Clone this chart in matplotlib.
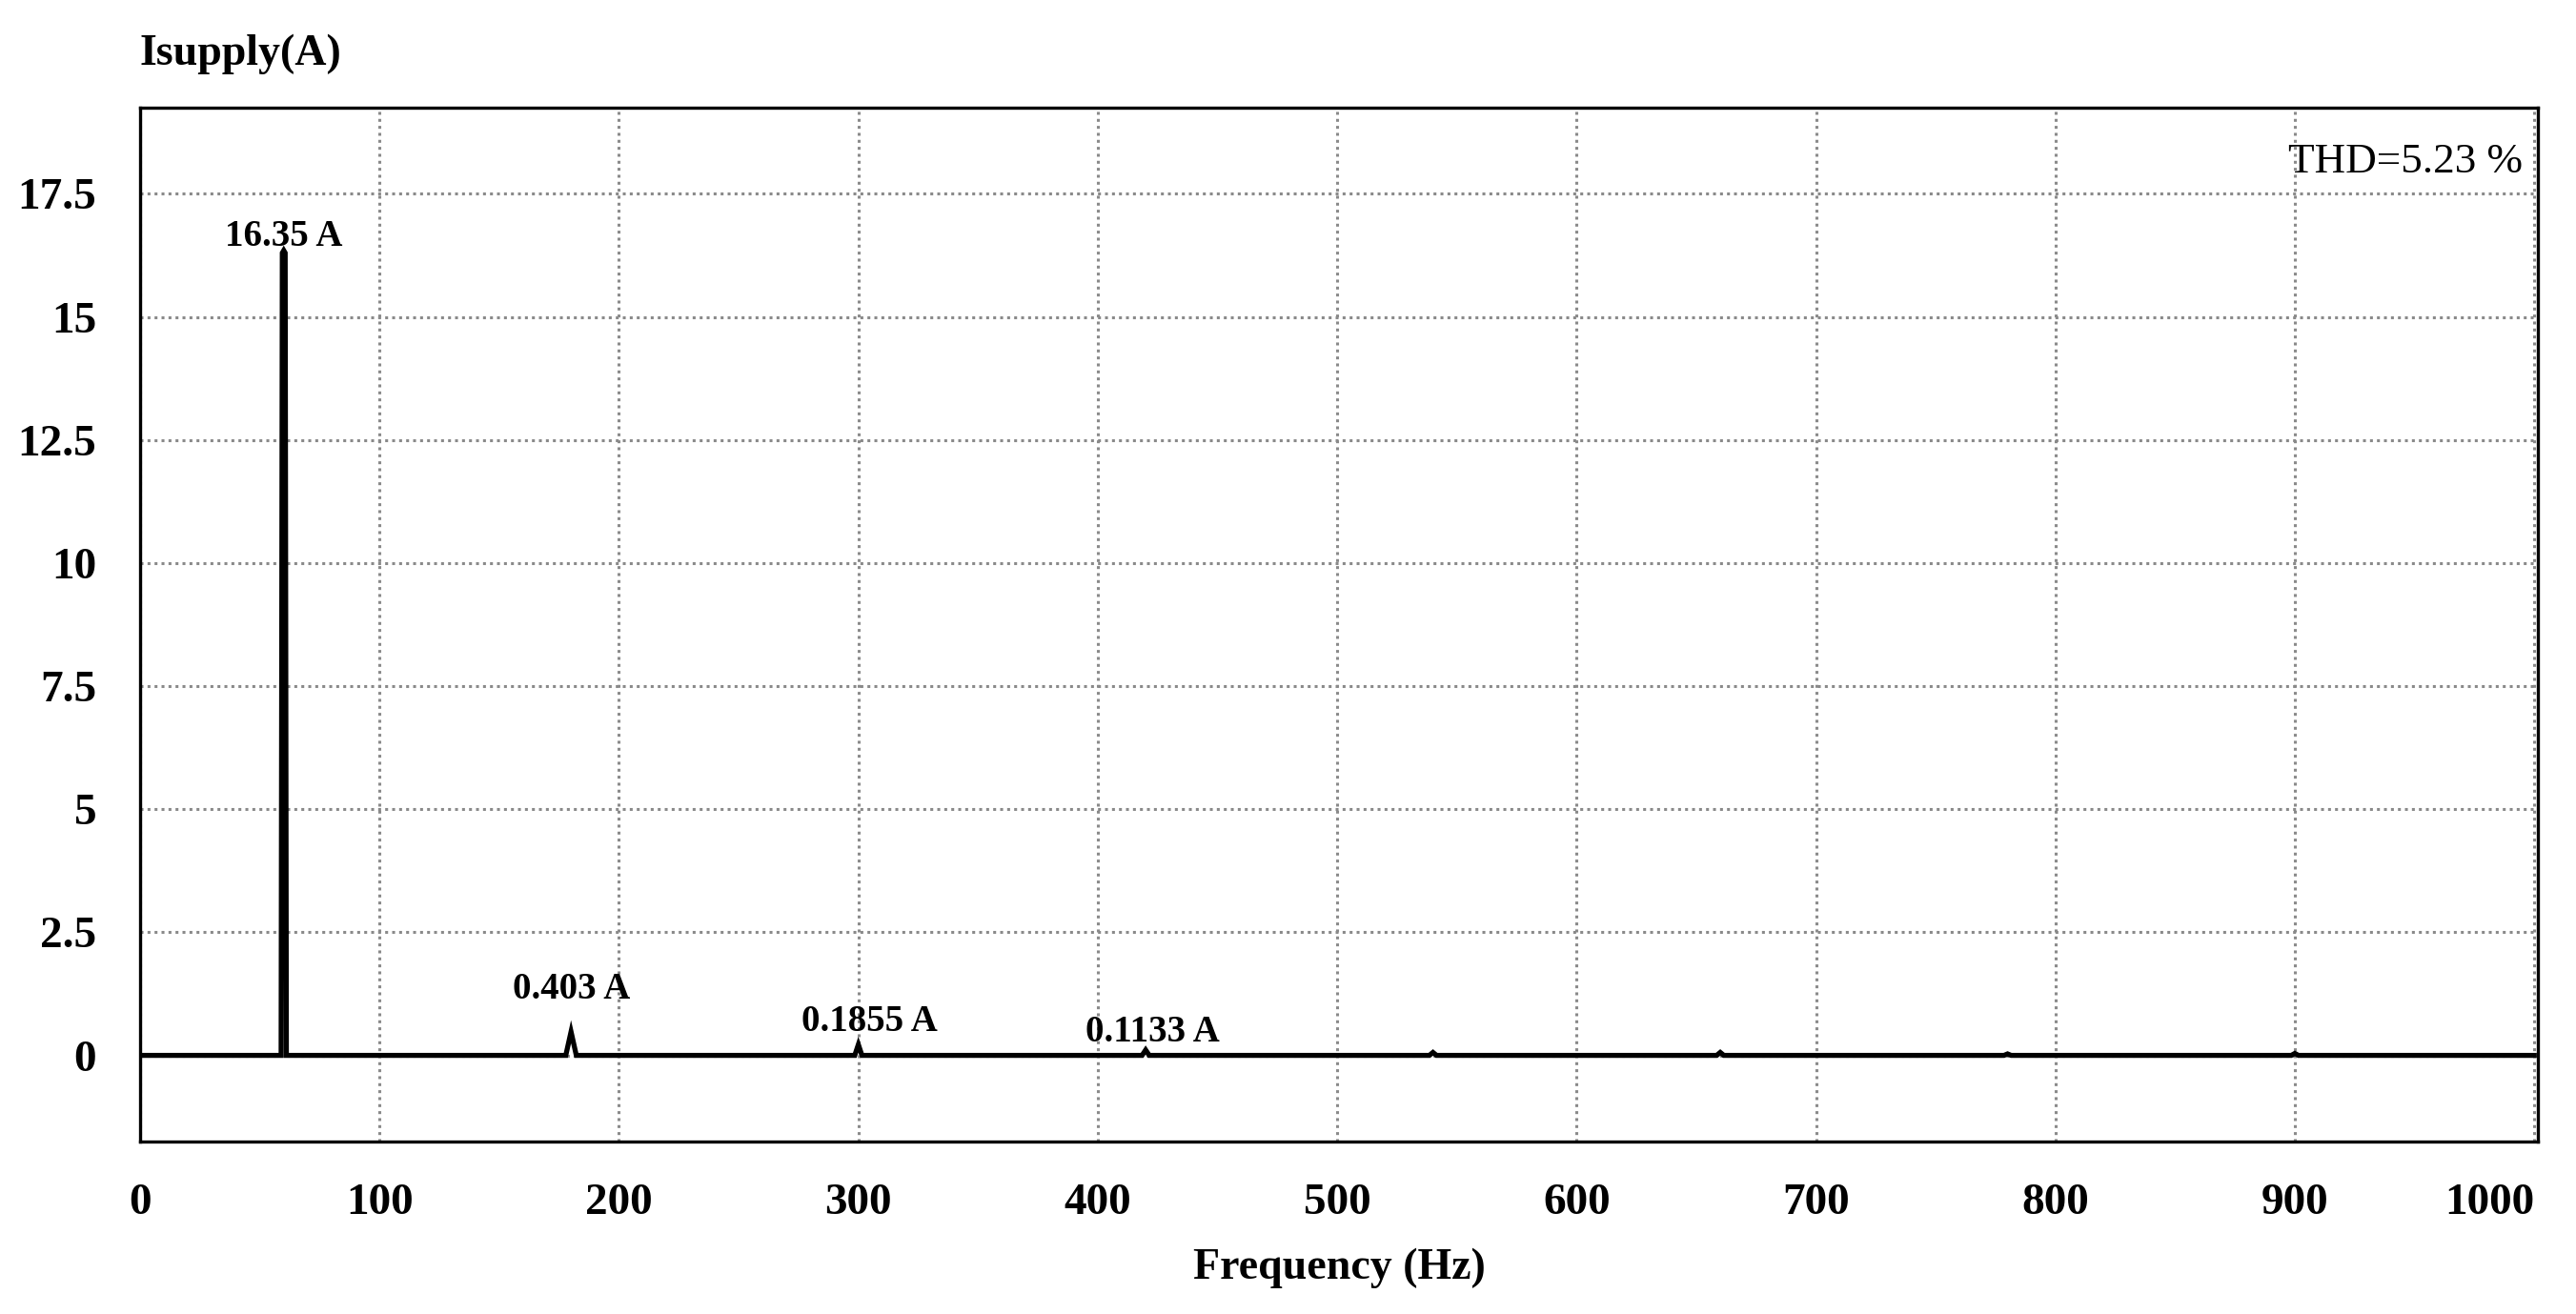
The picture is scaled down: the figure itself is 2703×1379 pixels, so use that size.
import matplotlib
matplotlib.use("Agg")
import matplotlib.pyplot as plt

# ---- data ----
freq_hz = [0, 58.9, 59.4, 60, 60.6, 61.1, 177.8, 180, 182.2, 298.5, 300, 301.5,
           418.5, 420, 421.5, 538.5, 540, 541.5, 658.5, 660, 661.5,
           778.5, 780, 781.5, 898.5, 900, 901.5, 1000]
amp_a = [0, 0, 16.3, 16.35, 16.3, 0, 0, 0.48, 0, 0, 0.22, 0,
         0, 0.11, 0, 0, 0.06, 0, 0, 0.06, 0,
         0, 0.03, 0, 0, 0.04, 0, 0]

peak_labels = ["16.35 A", "0.403 A", "0.1855 A", "0.1133 A"]
peak_label_x = [60, 180, 304.5, 423]
peak_label_y = [16.63, 1.34, 0.68, 0.47]

x_ticks = [0, 100, 200, 300, 400, 500, 600, 700, 800, 900, 1000]
y_ticks = [0, 2.5, 5, 7.5, 10, 12.5, 15, 17.5]
y_tick_labels = ["0", "2.5", "5", "7.5", "10", "12.5", "15", "17.5"]
thd_text = "THD=5.23 %"
y_title = "Isupply(A)"
x_title = "Frequency (Hz)"

# ---- figure ----
W, H = 2703, 1379
fig = plt.figure(figsize=(W / 100, H / 100), dpi=100)
ax = fig.add_axes([147 / W, 1 - 1198 / H, (2663 - 147) / W, (1198 - 113) / H])

FONT = "Liberation Serif"
plt.rcParams["font.family"] = FONT

ax.plot(freq_hz, amp_a, color="black", lw=3.8, solid_joinstyle="miter", zorder=3)

ax.set_xlim(0, 1001.5)
ax.set_ylim(-1.75, 19.25)
ax.set_xticks(x_ticks)
ax.set_yticks(y_ticks)
ax.set_yticklabels(y_tick_labels, fontsize=34, fontweight="bold", family=FONT)
ax.set_xticklabels([str(t) for t in x_ticks], fontsize=34, fontweight="bold", family=FONT)
lbls = ax.get_xticklabels()
lbls[-1].set_horizontalalignment("right")
ax.tick_params(axis="x", length=0, pad=32)
ax.tick_params(axis="y", length=0, pad=33)

ax.grid(True, color="#8a8a8a", linestyle=(0, (1.0, 1.4)), linewidth=2.2, zorder=1)
for sp in ax.spines.values():
    sp.set_linewidth(2.4)
    sp.set_color("black")

for t, x, y in zip(peak_labels, peak_label_x, peak_label_y):
    ax.text(x, y, t, ha="center", va="center", fontsize=28, fontweight="bold", family=FONT, zorder=4)

ax.text(995, 18.15, thd_text, ha="right", va="center", fontsize=32.5, family=FONT, zorder=4)

fig.text(147 / W, 1 - 57 / H, y_title, ha="left", va="center", fontsize=33, fontweight="bold", family=FONT)
ax.set_xlabel(x_title, fontsize=33, fontweight="bold", family=FONT, labelpad=18)

fig.savefig("out.png", dpi=100, facecolor="white")
